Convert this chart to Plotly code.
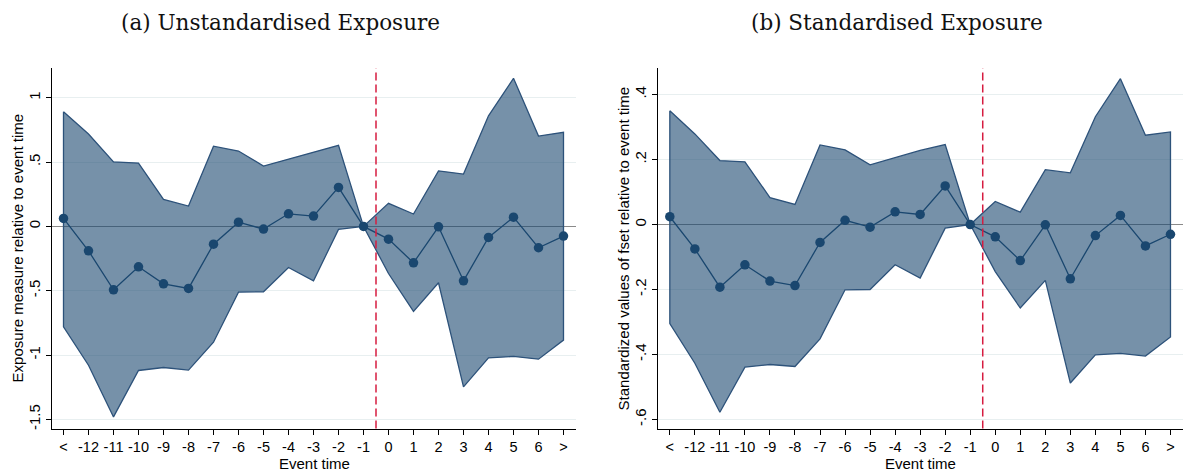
import plotly.graph_objects as go

# ---------------- data ----------------
labels = ["<", "-12", "-11", "-10", "-9", "-8", "-7", "-6", "-5", "-4", "-3",
          "-2", "-1", "0", "1", "2", "3", "4", "5", "6", ">"]

unstd_est = [0.062, -0.19, -0.493, -0.314, -0.446, -0.482, -0.138, 0.033, -0.021, 0.098, 0.080,
             0.303, 0.0, -0.099, -0.283, -0.003, -0.423, -0.086, 0.072, -0.166, -0.075]
unstd_hi = [0.891, 0.718, 0.502, 0.492, 0.210, 0.158, 0.624, 0.586, 0.469, 0.521, 0.578,
            0.630, 0.0, 0.179, 0.096, 0.432, 0.407, 0.860, 1.151, 0.702, 0.731]
unstd_lo = [-0.781, -1.079, -1.481, -1.120, -1.097, -1.117, -0.900, -0.511, -0.508, -0.319, -0.423,
            -0.023, 0.0, -0.366, -0.660, -0.438, -1.247, -1.022, -1.011, -1.032, -0.884]

std_est = [0.024, -0.075, -0.193, -0.124, -0.174, -0.188, -0.055, 0.013, -0.008, 0.039, 0.031,
           0.119, 0.0, -0.038, -0.111, -0.001, -0.167, -0.034, 0.028, -0.066, -0.030]
std_hi = [0.350, 0.279, 0.197, 0.193, 0.083, 0.062, 0.245, 0.230, 0.184, 0.207, 0.228,
          0.246, 0.0, 0.071, 0.038, 0.169, 0.159, 0.332, 0.449, 0.275, 0.285]
std_lo = [-0.305, -0.427, -0.578, -0.439, -0.431, -0.437, -0.352, -0.201, -0.200, -0.124, -0.165,
          -0.011, 0.0, -0.145, -0.257, -0.172, -0.488, -0.401, -0.397, -0.405, -0.346]

unstd_ticks = [1, 0.5, 0, -0.5, -1, -1.5]
unstd_ticktext = ["1", ".5", "0", "-.5", "-1", "-1.5"]
std_ticks = [0.4, 0.2, 0, -0.2, -0.4, -0.6]
std_ticktext = [".4", ".2", "0", "-.2", "-.4", "-.6"]

titles = ["(a) Unstandardised Exposure", "(b) Standardised Exposure"]
ytitles = ["Exposure measure relative to event time",
           "Standardized values of fset relative to event time"]
xtitle = "Event time"

# ---------------- styling ----------------
W, H = 1185, 473
NAVY = "rgb(26,71,111)"
BAND_FILL = "rgba(26,71,111,0.6)"
BAND_LINE = "rgb(45,82,122)"
RED = "rgb(214,28,64)"
SANS = "Liberation Sans, Arial, sans-serif"
SERIF = "DejaVu Serif, serif"

idx = list(range(len(labels)))

fig = go.Figure()

panels = [
    (unstd_est, unstd_lo, unstd_hi, "x", "y"),
    (std_est, std_lo, std_hi, "x2", "y2"),
]
for est, lo, hi, xa, ya in panels:
    px = idx + idx[::-1] + [idx[0]]
    py = hi + lo[::-1] + [hi[0]]
    fig.add_trace(go.Scatter(x=px, y=py, fill="toself", fillcolor=BAND_FILL,
                             mode="lines", line=dict(color=BAND_LINE, width=1.3),
                             xaxis=xa, yaxis=ya, showlegend=False, hoverinfo="skip"))
    fig.add_trace(go.Scatter(x=idx, y=est, mode="lines+markers",
                             line=dict(color=NAVY, width=1.3),
                             marker=dict(color=NAVY, size=9.5),
                             xaxis=xa, yaxis=ya, showlegend=False))

xcommon = dict(tickvals=idx, ticktext=labels, ticks="outside", ticklen=5, tickwidth=1,
               tickcolor="#000", showline=True, linecolor="#000", linewidth=1.2,
               showgrid=False, zeroline=False, range=[-0.46, 20.5], automargin=False,
               tickfont=dict(family=SANS, size=14.5, color="#000"))
ycommon = dict(ticks="outside", ticklen=5, tickwidth=1, tickcolor="#000",
               showline=True, linecolor="#000", linewidth=1.2, automargin=False,
               showgrid=True, gridcolor="#e8eff0", gridwidth=1,
               zeroline=True, zerolinecolor="#8a8a8a", zerolinewidth=1.2,
               tickangle=-90, tickfont=dict(family=SANS, size=15, color="#000"))

ydom = [1 - 428.5 / H, 1 - 68.3 / H]
fig.update_layout(
    width=W, height=H, autosize=False,
    margin=dict(l=0, r=0, t=0, b=0),
    paper_bgcolor="white", plot_bgcolor="white",
    xaxis=dict(xcommon, domain=[52 / W, 576 / W], anchor="y"),
    yaxis=dict(ycommon, domain=ydom, anchor="x", range=[-1.571, 1.229],
               tickvals=unstd_ticks, ticktext=unstd_ticktext),
    xaxis2=dict(xcommon, domain=[658.3 / W, 1183 / W], anchor="y2"),
    yaxis2=dict(ycommon, domain=ydom, anchor="x2", range=[-0.628, 0.481],
                tickvals=std_ticks, ticktext=std_ticktext),
)

# red dashed reference lines between -1 and 0
for xr, yr in [("x", "y"), ("x2", "y2")]:
    fig.add_shape(type="line", xref=xr, yref=yr + " domain", x0=12.5, x1=12.5, y0=0, y1=1,
                  line=dict(color=RED, width=1.5, dash="8px,4px"))

ann = []
for cx, t in zip([280.5, 897], titles):
    ann.append(dict(text=t, x=cx / W, y=1 - 23 / H, xref="paper", yref="paper",
                    xanchor="center", yanchor="middle", showarrow=False,
                    font=dict(family=SERIF, size=21.5, color="#111")))
for cx, t in zip([17, 623], ytitles):
    ann.append(dict(text=t, x=cx / W, y=1 - 248.4 / H, xref="paper", yref="paper",
                    xanchor="center", yanchor="middle", showarrow=False, textangle=-90,
                    font=dict(family=SANS, size=15, color="#000")))
for cx in [314, 920.5]:
    ann.append(dict(text=xtitle, x=cx / W, y=1 - 463 / H, xref="paper", yref="paper",
                    xanchor="center", yanchor="middle", showarrow=False,
                    font=dict(family=SANS, size=15, color="#000")))
fig.update_layout(annotations=ann)

fig.write_html("out.html", config={"displayModeBar": False},
               post_script="document.body.style.margin='0';document.body.style.padding='0';")
